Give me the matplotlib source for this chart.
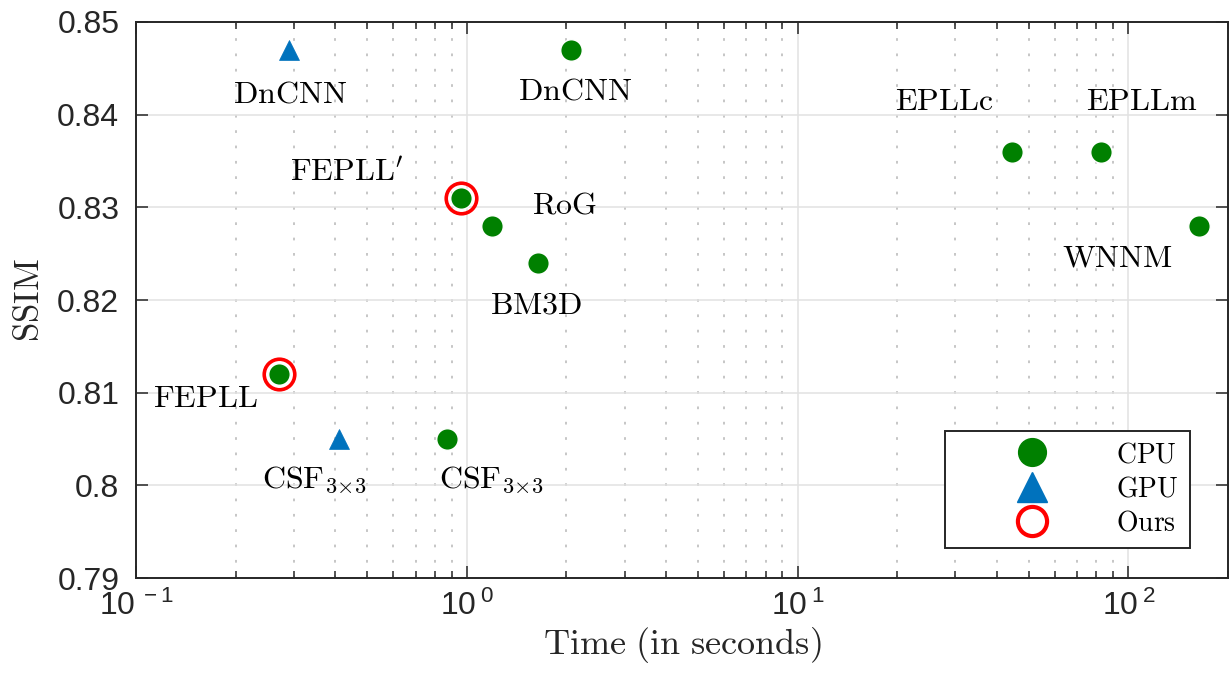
import matplotlib
matplotlib.use("Agg")
import matplotlib.pyplot as plt
from matplotlib.lines import Line2D
from matplotlib.ticker import FuncFormatter, LogLocator, MultipleLocator
import numpy as np

plt.rcParams['mathtext.fontset'] = 'cm'
plt.rcParams['font.family'] = ['Liberation Sans', 'DejaVu Sans']

# data
cpu_names = ['FEPLL', 'CSF3', "FEPLL'", 'RoG', 'BM3D', 'DnCNN', 'EPLLc', 'EPLLm', 'WNNM']
cpu_time = [0.27, 0.87, 0.96, 1.19, 1.64, 2.07, 44.6, 82.8, 164.0]
cpu_ssim = [0.812, 0.805, 0.831, 0.828, 0.824, 0.847, 0.836, 0.836, 0.828]

gpu_names = ['DnCNN', 'CSF3']
gpu_time = [0.29, 0.41]
gpu_ssim = [0.847, 0.805]

ours_time = [0.27, 0.96]
ours_ssim = [0.812, 0.831]

labels = {
    'DnCNN': r'$\mathrm{DnCNN}$',
    'CSF3': r'$\mathrm{CSF}_{3\!\times\!3}$',
    "FEPLL'": r"$\mathrm{FEPLL}'$",
    'FEPLL': r'$\mathrm{FEPLL}$',
    'RoG': r'$\mathrm{RoG}$',
    'BM3D': r'$\mathrm{BM3D}$',
    'EPLLc': r'$\mathrm{EPLLc}$',
    'EPLLm': r'$\mathrm{EPLLm}$',
    'WNNM': r'$\mathrm{WNNM}$',
}

# label offsets in pixels from the marker
cpu_offsets = [(-73, -25), (45, -41), (-114, 25), (73, 20), (-2, -43),
               (4, -42), (-68, 50), (40, 50), (-82, -33)]
gpu_offsets = [(1, -45), (-24, -41)]

green = '#008000'
blue = '#0072BD'
dark = '#262626'

fig = plt.figure(figsize=(12.3, 6.73), dpi=100)
ax = fig.add_axes([136 / 1230, 1 - 578 / 673, 1092 / 1230, 556 / 673])

ax.plot(cpu_time, cpu_ssim, 'o', color=green, ms=15.5, mec='white', mew=1.0, ls='none', zorder=3)
ax.plot(gpu_time, gpu_ssim, '^', color=blue, ms=15, mec=blue, mew=0.5, ls='none', zorder=3)
ax.plot(ours_time, ours_ssim, 'o', mfc='none', mec='#ff0000', ms=22, mew=2.6, ls='none', zorder=4)

for n, t, s, off in zip(cpu_names, cpu_time, cpu_ssim, cpu_offsets):
    ax.annotate(labels[n], (t, s), xytext=off, textcoords='offset pixels',
                ha='center', va='center', fontsize=23, color='black')
for n, t, s, off in zip(gpu_names, gpu_time, gpu_ssim, gpu_offsets):
    ax.annotate(labels[n], (t, s), xytext=off, textcoords='offset pixels',
                ha='center', va='center', fontsize=23, color='black')

ax.set_xscale('log')
ax.set_xlim(0.1, 200)
ax.set_ylim(0.79, 0.85)
ax.yaxis.set_major_locator(MultipleLocator(0.01))
ax.yaxis.set_major_formatter(FuncFormatter(lambda v, p: f'{v:g}'))
ax.xaxis.set_major_locator(LogLocator(base=10, numticks=10))
ax.xaxis.set_minor_locator(LogLocator(base=10, subs=np.arange(2, 10), numticks=20))
ax.xaxis.set_minor_formatter(FuncFormatter(lambda v, p: ''))
ax.xaxis.set_major_formatter(FuncFormatter(
    lambda v, p: r'10$^{\mathregular{\,%d}}$' % int(round(np.log10(v)))))

ax.grid(True, which='major', color='#e2e2e2', lw=1.1, ls='-', zorder=0)
ax.grid(True, which='minor', axis='x', color='#c2c2c2', lw=1.3, ls=(0, (1.5, 7)), zorder=0)
ax.set_axisbelow(True)

ax.tick_params(which='both', direction='in', top=True, right=True, colors=dark,
               labelsize=23)
ax.tick_params(which='major', length=8.5, width=1.1)
ax.tick_params(which='minor', length=5, width=1.1)
ax.tick_params(axis='y', pad=12)
ax.tick_params(axis='x', pad=9)
for sp in ax.spines.values():
    sp.set_color(dark)
    sp.set_linewidth(1.4)

ax.set_xlabel(r'$\mathrm{Time\ (in\ seconds)}$', fontsize=26, color=dark, labelpad=2)
ax.set_ylabel(r'$\mathrm{SSIM}$', fontsize=25, color=dark, labelpad=8)

handles = [
    Line2D([], [], marker='o', ls='none', color=green, ms=20, mec=green),
    Line2D([], [], marker='^', ls='none', color=blue, ms=22, mec=blue),
    Line2D([], [], marker='o', ls='none', mfc='none', mec='#ff0000', ms=21, mew=3),
]
leg = ax.legend(handles, [r'$\mathrm{CPU}$', r'$\mathrm{GPU}$', r'$\mathrm{Ours}$'],
                loc='lower right', bbox_to_anchor=(0.965, 0.054), borderaxespad=0,
                fontsize=20, fancybox=False, framealpha=1, edgecolor=dark,
                handlelength=5.45, handletextpad=0.3, borderpad=0.4, labelspacing=0.3)
leg.get_frame().set_linewidth(1.4)

fig.savefig('out.png', dpi=100)
